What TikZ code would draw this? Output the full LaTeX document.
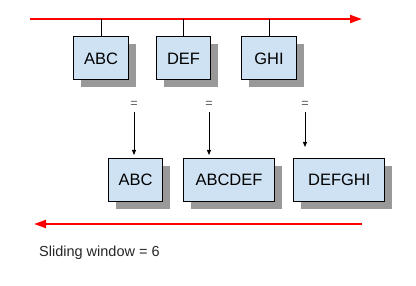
\documentclass[tikz,border=0pt]{standalone}
\usepackage{fontspec}
\setmainfont{Liberation Sans}
\usetikzlibrary{arrows.meta,shadows}
\definecolor{boxblue}{RGB}{207,226,243}
\definecolor{shadowgray}{RGB}{153,153,153}

\begin{document}
\begin{tikzpicture}[x=1pt,y=-1pt,
   blk/.style={draw,line width=1pt,fill=boxblue,minimum height=43pt,inner sep=0pt,
      font=\fontsize{16.5}{19}\selectfont,
      drop shadow={shadow xshift=7.5pt,shadow yshift=-7.5pt,fill=shadowgray,opacity=1}},
   eqsign/.style={text=black!65,font=\fontsize{12.5}{14}\selectfont,inner sep=1pt},
   flow/.style={red,line width=2pt,-{Triangle[length=12pt,width=8pt]}},
   feed/.style={line width=0.8pt,-{Triangle[length=5pt,width=4pt]}}]
   \useasboundingbox (0,0) rectangle (416,286);

   % stream going in
   \coordinate (inL) at (30,19);
   \coordinate (inR) at (362,19);
   \draw[flow] (inL) -- (inR);

   \node[blk,minimum width=55pt] (abc) at (101,58.5) {ABC};
   \node[blk,minimum width=54pt] (def) at (183.5,58.5) {DEF};
   \node[blk,minimum width=55pt] (ghi) at (269,58.5) {GHI};
   \foreach \b in {abc,def,ghi}
      \draw[line width=0.8pt] (\b.north) -- (\b.north |- inL);

   \node[eqsign] (eq1) at (134,104) {=};
   \node[eqsign] (eq2) at (209,104) {=};
   \node[eqsign] (eq3) at (305,104) {=};

   \node[blk,minimum width=54pt] (outabc) at (135.5,180) {ABC};
   \node[blk,minimum width=91pt] (outabcdef) at (229,180) {ABCDEF};
   \node[blk,minimum width=91pt] (outdefghi) at (339.3,180) {DEFGHI};

   \draw[feed,shorten <=4pt,shorten >=3pt] (eq1.south) -- (eq1.south |- outabc.north);
   \draw[feed,shorten <=4pt,shorten >=3pt] (eq2.south) -- (eq2.south |- outabcdef.north);
   \draw[feed,shorten <=4pt,shorten >=11pt] (eq3.south) -- (eq3.south |- outdefghi.north);

   % stream going out
   \coordinate (outR) at (362,224);
   \coordinate (outL) at (34,224);
   \draw[flow] (outR) -- (outL);

   \node[anchor=west,inner sep=0pt,text=black!85,font=\fontsize{14.5}{17}\selectfont] (win) at (39,253) {Sliding window = 6};
\end{tikzpicture}
\end{document}
